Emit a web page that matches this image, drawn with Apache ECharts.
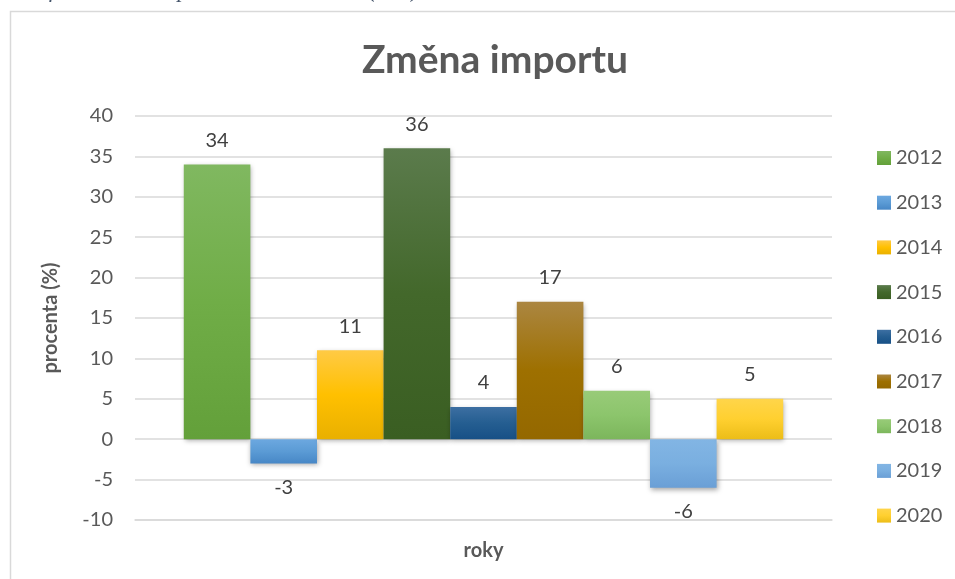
<!DOCTYPE html>
<html>
<head>
<meta charset="utf-8">
<script src="https://cdn.jsdelivr.net/npm/echarts@6/dist/echarts.min.js"></script>
<style>
  html, body { margin: 0; padding: 0; background: #fff; }
  #chart { width: 955px; height: 579px; }
</style>
</head>
<body>
<div id="chart"></div>
<script>
// data
const years = ['2012', '2013', '2014', '2015', '2016', '2017', '2018', '2019', '2020'];
const values = [34, -3, 11, 36, 4, 17, 6, -6, 5];
const yTicks = { min: -10, max: 40, step: 5 };

// Excel-like gradient colours: top, middle, bottom
const palette = [
  ['#80b860', '#70ad47', '#63a03a'],
  ['#6ca8e0', '#5b9bd5', '#4787c6'],
  ['#ffca45', '#ffc000', '#e9b000'],
  ['#5b7b4c', '#43682b', '#3a5e22'],
  ['#3d6fa2', '#255e91', '#175086'],
  ['#ab8641', '#9e7000', '#946800'],
  ['#98cb78', '#8cc56c', '#7cb65c'],
  ['#82b5e4', '#7aafe0', '#6a9fd6'],
  ['#ffd54a', '#ffd030', '#ecbd18']
];

const chart = echarts.init(document.getElementById('chart'));

const series = years.map((y, i) => ({
  name: y,
  type: 'bar',
  data: [values[i]],
  barGap: '0%',
  barCategoryGap: '14%',
  itemStyle: {
    color: new echarts.graphic.LinearGradient(0, 0, 0, 1, [
      { offset: 0, color: palette[i][0] },
      { offset: 0.5, color: palette[i][1] },
      { offset: 1, color: palette[i][2] }
    ]),
    shadowColor: 'rgba(0,0,0,0.35)',
    shadowBlur: 5,
    shadowOffsetX: 1,
    shadowOffsetY: 2
  },
  label: {
    show: true,
    position: values[i] >= 0 ? 'top' : 'bottom',
    distance: 14,
    color: '#404040',
    fontSize: 20,
    fontFamily: 'Lato'
  }
}));

chart.setOption({
  backgroundColor: '#fff',
  animation: false,
  title: {
    text: 'Změna importu',
    left: 490,
    textAlign: 'center',
    top: 36,
    textStyle: {
      color: '#595959',
      fontSize: 39,
      fontWeight: 'bold',
      fontFamily: 'Lato'
    }
  },
  graphic: [
    {
      type: 'rect',
      shape: { x: 10.5, y: 11.5, width: 960, height: 600 },
      style: { fill: 'none', stroke: '#d9d9d9', lineWidth: 1.5 },
      silent: true
    },
    {
      type: 'text',
      left: 12,
      top: -21,
      style: {
        text: 'Graf 2: Změna importu mezi ČR a RK (v %)',
        fill: '#44546a',
        font: 'italic 23px "Liberation Serif"'
      },
      silent: true
    }
  ],
  legend: {
    orient: 'vertical',
    left: 872,
    top: 143,
    icon: 'rect',
    itemWidth: 14,
    itemHeight: 14,
    itemGap: 24.7,
    data: years,
    textStyle: {
      color: '#595959',
      fontSize: 20,
      fontFamily: 'Lato',
      lineHeight: 20
    }
  },
  grid: {
    left: 135,
    right: 123,
    top: 116,
    bottom: 59,
    containLabel: false,
    outerBoundsMode: 'none'
  },
  xAxis: {
    type: 'category',
    data: [''],
    name: 'roky',
    nameLocation: 'middle',
    nameGap: 21,
    nameTextStyle: {
      color: '#595959',
      fontSize: 20,
      fontWeight: 'bold',
      fontFamily: 'Lato'
    },
    axisLine: { show: true, onZero: false, lineStyle: { color: '#d9d9d9', width: 1.5 } },
    axisTick: { show: false },
    axisLabel: { show: false }
  },
  yAxis: {
    type: 'value',
    min: yTicks.min,
    max: yTicks.max,
    interval: yTicks.step,
    name: 'procenta (%)',
    nameLocation: 'middle',
    nameGap: 74,
    nameTextStyle: {
      color: '#595959',
      fontSize: 20,
      fontWeight: 'bold',
      fontFamily: 'Lato'
    },
    axisLine: { show: false },
    axisTick: { show: false },
    axisLabel: {
      color: '#595959',
      fontSize: 20,
      fontFamily: 'Lato',
      margin: 22
    },
    splitLine: { lineStyle: { color: '#d9d9d9', width: 1.5 } }
  },
  series: series
});
</script>
</body>
</html>
